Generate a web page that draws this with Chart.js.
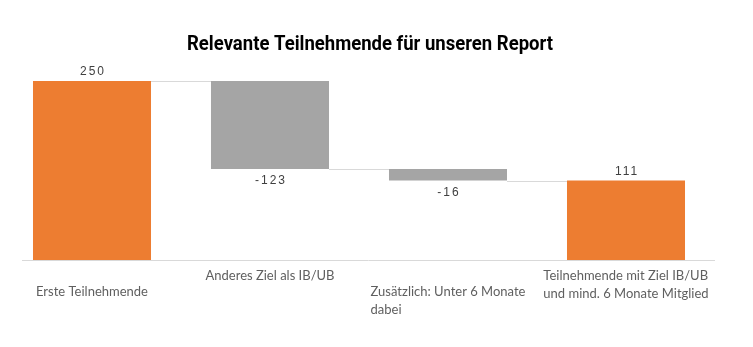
<!DOCTYPE html>
<html lang="de">
<head>
<meta charset="utf-8">
<title>Relevante Teilnehmende</title>
<script src="https://cdn.jsdelivr.net/npm/chart.js@4.4.1/dist/chart.umd.min.js"></script>
<style>
  html, body { margin: 0; padding: 0; background: #fff; }
  #wrap { width: 753px; height: 347px; }
</style>
</head>
<body>
<div id="wrap"><canvas id="wasserfall"></canvas></div>
<script>
// Wasserfall: Start, zwei Abgaenge, Ergebnis
const titel = 'Relevante Teilnehmende für unseren Report';
const kategorien = [
  ['Erste Teilnehmende'],
  ['Anderes Ziel als IB/UB'],
  ['Zusätzlich: Unter 6 Monate', 'dabei'],
  ['Teilnehmende mit Ziel IB/UB', 'und mind. 6 Monate Mitglied']
];
const werte = [250, -123, -16, 111];
const istSumme = [true, false, false, true];
const wertLabels = ['250', '-123', '-16', '111'];

const ORANGE = '#ED7D31';
const GRAU = '#A5A5A5';

// schwebende Balken [von, bis] aus der laufenden Summe
let laufend = 0;
const spannen = werte.map((v, i) => {
  if (istSumme[i]) { laufend = v; return [0, v]; }
  const von = laufend;
  laufend += v;
  return [von, laufend];
});

const wasserfallPlugin = {
  id: 'wasserfall',
  afterDatasetsDraw(chart) {
    const ctx = chart.ctx;
    const meta = chart.getDatasetMeta(0);
    const y = chart.scales.y;
    const x = chart.scales.x;
    ctx.save();

    // Titel, schmal gestaucht
    ctx.fillStyle = '#000';
    ctx.font = 'bold 21px Roboto';
    ctx.textAlign = 'center';
    ctx.textBaseline = 'middle';
    const sx = 366 / ctx.measureText(titel).width;
    ctx.save();
    ctx.translate(370, 45);
    ctx.scale(sx, 1);
    ctx.fillText(titel, 0, 0);
    ctx.restore();

    // Grundlinie
    ctx.strokeStyle = '#D9D9D9';
    ctx.lineWidth = 1;
    ctx.beginPath();
    ctx.moveTo(22, Math.round(y.getPixelForValue(0)) + 0.5);
    ctx.lineTo(715, Math.round(y.getPixelForValue(0)) + 0.5);
    ctx.stroke();

    // Verbindungslinien zwischen den Balken
    for (let i = 0; i < meta.data.length - 1; i++) {
      const a = meta.data[i], b = meta.data[i + 1];
      const yy = Math.round(y.getPixelForValue(spannen[i][1])) + 0.5;
      ctx.beginPath();
      ctx.moveTo(a.x + a.width / 2, yy);
      ctx.lineTo(b.x - b.width / 2, yy);
      ctx.stroke();
    }

    // Wertbeschriftungen
    ctx.fillStyle = '#404040';
    ctx.font = '12px "Liberation Sans"';
    ctx.letterSpacing = '2px';
    ctx.textAlign = 'center';
    meta.data.forEach((bar, i) => {
      const [von, bis] = spannen[i];
      if (werte[i] >= 0) {
        ctx.textBaseline = 'bottom';
        ctx.fillText(wertLabels[i], bar.x + 1, y.getPixelForValue(Math.max(von, bis)) - 3);
      } else {
        ctx.textBaseline = 'top';
        ctx.fillText(wertLabels[i], bar.x + 1, y.getPixelForValue(Math.min(von, bis)) + 6);
      }
    });

    // Kategorien, abwechselnd versetzt, linksbuendiger Block
    ctx.letterSpacing = '0px';
    ctx.fillStyle = '#5f5f5f';
    ctx.font = '13px Lato';
    ctx.textAlign = 'left';
    ctx.textBaseline = 'middle';
    kategorien.forEach((zeilen, i) => {
      const mitte = x.getPixelForValue(i);
      const breite = Math.max(...zeilen.map(z => ctx.measureText(z).width));
      const startY = i % 2 === 0 ? 292 : 276;
      zeilen.forEach((z, k) => {
        ctx.fillText(z, mitte - breite / 2, startY + k * 18);
      });
    });
    ctx.restore();
  }
};

new Chart(document.getElementById('wasserfall'), {
  type: 'bar',
  data: {
    labels: kategorien.map(z => z.join(' ')),
    datasets: [{
      data: spannen,
      backgroundColor: istSumme.map(s => s ? ORANGE : GRAU),
      borderWidth: 0,
      categoryPercentage: 1,
      barPercentage: 0.663
    }]
  },
  options: {
    responsive: true,
    maintainAspectRatio: false,
    animation: false,
    layout: { padding: { left: 3, right: 38, top: 81, bottom: 87 } },
    scales: {
      x: { display: false },
      y: { display: false, min: 0, max: 250 }
    },
    plugins: {
      legend: { display: false },
      tooltip: { enabled: false },
      title: { display: false }
    }
  },
  plugins: [wasserfallPlugin]
});
</script>
</body>
</html>
